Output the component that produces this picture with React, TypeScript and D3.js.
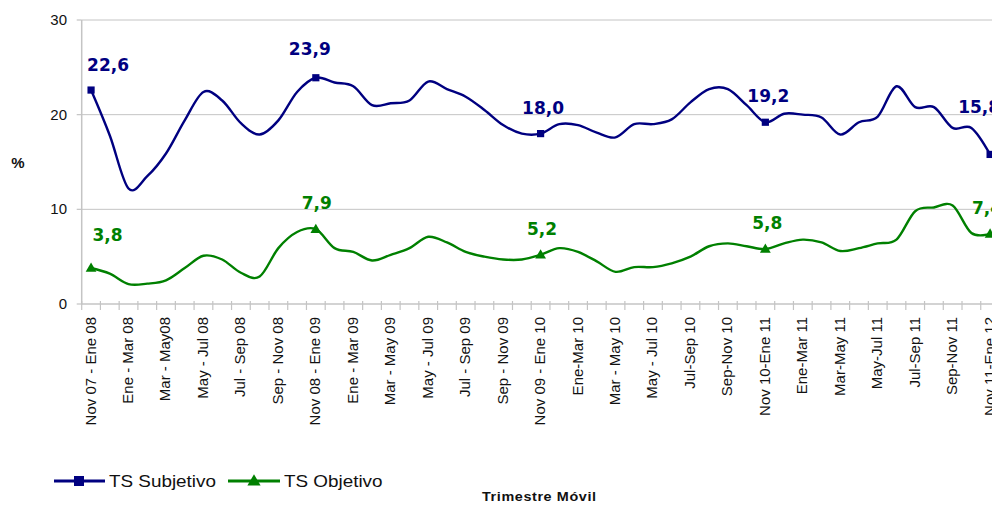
import React from 'react';
import * as d3 from 'd3';

const categories: string[] = [
  'Nov 07 - Ene 08', 'Dic 07 - Feb 08', 'Ene - Mar 08', 'Feb - Abr 08', 'Mar - May08', 'Abr - Jun 08',
  'May - Jul 08', 'Jun - Ago 08', 'Jul - Sep 08', 'Ago - Oct 08', 'Sep - Nov 08', 'Oct - Dic 08',
  'Nov 08 - Ene 09', 'Dic 08 - Feb 09', 'Ene - Mar 09', 'Feb - Abr 09', 'Mar - May 09', 'Abr - Jun 09',
  'May - Jul 09', 'Jun - Ago 09', 'Jul - Sep 09', 'Ago - Oct 09', 'Sep - Nov 09', 'Oct - Dic 09',
  'Nov 09 - Ene 10', 'Dic 09 - Feb 10', 'Ene-Mar 10', 'Feb-Abr 10', 'Mar - May 10', 'Abr - Jun 10',
  'May - Jul 10', 'Jun - Ago 10', 'Jul-Sep 10', 'Ago-Oct 10', 'Sep-Nov 10', 'Oct-Dic 10',
  'Nov 10-Ene 11', 'Dic 10-Feb 11', 'Ene-Mar 11', 'Feb-Abr 11', 'Mar-May 11', 'Abr-Jun 11',
  'May-Jul 11', 'Jun-Ago 11', 'Jul-Sep 11', 'Ago-Oct 11', 'Sep-Nov 11', 'Oct-Dic 11',
  'Nov 11-Ene 12',
];

// Labels shown on the axis (every second category)
const shownTickLabels: string[] = [
  'Nov 07 - Ene 08', 'Ene - Mar 08', 'Mar - May08', 'May - Jul 08', 'Jul - Sep 08', 'Sep - Nov 08',
  'Nov 08 - Ene 09', 'Ene - Mar 09', 'Mar - May 09', 'May - Jul 09', 'Jul - Sep 09', 'Sep - Nov 09',
  'Nov 09 - Ene 10', 'Ene-Mar 10', 'Mar - May 10', 'May - Jul 10', 'Jul-Sep 10', 'Sep-Nov 10',
  'Nov 10-Ene 11', 'Ene-Mar 11', 'Mar-May 11', 'May-Jul 11', 'Jul-Sep 11', 'Sep-Nov 11', 'Nov 11-Ene 12',
];

const tsSubjetivo: number[] = [
  22.6, 17.8, 12.2, 13.5, 15.9, 19.4, 22.4, 21.5, 19.1, 17.9, 19.4, 22.4,
  23.9, 23.4, 23.0, 21.0, 21.2, 21.5, 23.5, 22.7, 21.9, 20.5, 18.9, 18.0,
  18.0, 19.0, 18.9, 18.1, 17.6, 19.0, 19.0, 19.5, 21.3, 22.7, 22.7, 21.0,
  19.2, 20.1, 20.0, 19.7, 17.9, 19.2, 19.8, 23.0, 20.8, 20.8, 18.6, 18.6,
  15.8,
];

const tsObjetivo: number[] = [
  3.8, 3.2, 2.1, 2.15, 2.5, 3.8, 5.1, 4.7, 3.3, 2.9, 5.9, 7.6,
  7.9, 5.9, 5.5, 4.6, 5.2, 5.9, 7.1, 6.5, 5.5, 5.0, 4.7, 4.7,
  5.2, 5.9, 5.5, 4.5, 3.4, 3.9, 3.9, 4.3, 5.0, 6.1, 6.4, 6.1,
  5.8, 6.4, 6.8, 6.5, 5.6, 5.9, 6.4, 6.8, 9.8, 10.2, 10.4, 7.5,
  7.4,
];

const labeledIdx: number[] = [0, 12, 24, 36, 48];
const yTicks: number[] = [0, 10, 20, 30];

const NAVY = '#000080';
const GREEN = '#008000';
const GRID = '#c4c4c4';

// label offsets (style) relative to the marker: [dx, dy]
const subjLabelOff: [number, number][] = [[17, -19], [-6, -22.5], [2.5, -19.5], [3, -20], [-11, -41]];
const objLabelOff: [number, number][] = [[16.5, -27], [1, -20], [1.5, -20], [2, -20], [-3, -20]];

export default function App() {
  const W = 992;
  const H = 508;
  const x0 = 81.7;
  const step = 18.73;
  const x = d3.scaleBand<string>().domain(categories).range([x0, x0 + categories.length * step]).padding(0);
  const y = d3.scaleLinear().domain([0, 30]).range([304, 20]);
  const cx = (i: number) => (x(categories[i]) as number) + x.bandwidth() / 2;

  const line = d3
    .line<number>()
    .x((_d, i) => cx(i))
    .y((d) => y(d))
    .curve(d3.curveCatmullRom.alpha(0));

  const boundaries = d3.range(categories.length + 1).map((k) => x0 + k * x.bandwidth());
  const font = '"Liberation Sans", Arial, sans-serif';
  const labelFont = '"DejaVu Sans", Verdana, sans-serif';

  const tri = (px: number, py: number, s: number) =>
    `M${px},${py - s * 0.62}L${px + s * 0.6},${py + s * 0.42}L${px - s * 0.6},${py + s * 0.42}Z`;

  return (
    <svg width={W} height={H} style={{ position: 'absolute', left: 0, top: 0, background: '#fff' }}>
      {/* gridlines */}
      {yTicks.filter((t) => t > 0).map((t) => (
        <line key={t} x1={x0} x2={W} y1={y(t)} y2={y(t)} stroke={GRID} strokeWidth={1} />
      ))}
      {/* y axis */}
      <line x1={x0} x2={x0} y1={y(30)} y2={y(0) + 0.5} stroke={GRID} strokeWidth={1.5} />
      {yTicks.map((t) => (
        <g key={t}>
          <line x1={x0 - 5} x2={x0} y1={y(t)} y2={y(t)} stroke={GRID} strokeWidth={1.2} />
          <text x={67} y={y(t) + 5} textAnchor="end" fontFamily={font} fontSize={15} fill="#111">
            {t}
          </text>
        </g>
      ))}
      <text x={18} y={168} textAnchor="middle" fontFamily={font} fontSize={15} fontWeight="bold" fill="#111">
        %
      </text>
      {/* x axis */}
      <line x1={x0} x2={W} y1={y(0)} y2={y(0)} stroke={GRID} strokeWidth={1.5} />
      {boundaries.map((bx, k) => (
        <line key={k} x1={bx} x2={bx} y1={y(0) - 3} y2={y(0) + 6} stroke={GRID} strokeWidth={1.2} />
      ))}
      {shownTickLabels.map((lab, k) => (
        <text
          key={lab}
          transform={`translate(${cx(k * 2) + 4.5},317) rotate(-90)`}
          textAnchor="end"
          fontFamily={font}
          fontSize={15}
          fill="#111"
        >
          {lab}
        </text>
      ))}

      {/* lines */}
      <path d={line(tsObjetivo) || ''} fill="none" stroke={GREEN} strokeWidth={2.4} strokeLinejoin="round" />
      <path d={line(tsSubjetivo) || ''} fill="none" stroke={NAVY} strokeWidth={2.4} strokeLinejoin="round" />

      {/* markers + labels */}
      {labeledIdx.map((i, k) => (
        <g key={'s' + i}>
          <rect x={cx(i) - 3.6} y={y(tsSubjetivo[i]) - 3.6} width={7.2} height={7.2} fill={NAVY} />
          <text
            x={cx(i) + subjLabelOff[k][0]}
            y={y(tsSubjetivo[i]) + subjLabelOff[k][1]}
            textAnchor="middle"
            fontFamily={labelFont}
            fontWeight="bold"
            fontSize={17}
            fill={NAVY}
          >
            {tsSubjetivo[i].toFixed(1).replace('.', ',')}
          </text>
        </g>
      ))}
      {labeledIdx.map((i, k) => (
        <g key={'o' + i}>
          <path d={tri(cx(i), y(tsObjetivo[i]), 9)} fill={GREEN} />
          <text
            x={cx(i) + objLabelOff[k][0]}
            y={y(tsObjetivo[i]) + objLabelOff[k][1]}
            textAnchor="middle"
            fontFamily={labelFont}
            fontWeight="bold"
            fontSize={17}
            fill={GREEN}
          >
            {tsObjetivo[i].toFixed(1).replace('.', ',')}
          </text>
        </g>
      ))}

      {/* legend */}
      <line x1={54} x2={105} y1={481} y2={481} stroke={NAVY} strokeWidth={3} />
      <rect x={79 - 5} y={481 - 5} width={10} height={10} fill={NAVY} />
      <text transform="translate(109,487) scale(1.18,1)" fontFamily={font} fontSize={16} fill="#111">
        TS Subjetivo
      </text>
      <line x1={228} x2={280} y1={481} y2={481} stroke={GREEN} strokeWidth={3} />
      <path d={tri(254, 481, 11)} fill={GREEN} />
      <text transform="translate(284,487) scale(1.18,1)" fontFamily={font} fontSize={16} fill="#111">
        TS Objetivo
      </text>

      <text
        transform="translate(482,501) scale(1.2,1)"
        fontFamily={font}
        fontSize={12}
        fontWeight="bold"
        letterSpacing={0.5}
        fill="#111"
      >
        Trimestre Móvil
      </text>
    </svg>
  );
}
